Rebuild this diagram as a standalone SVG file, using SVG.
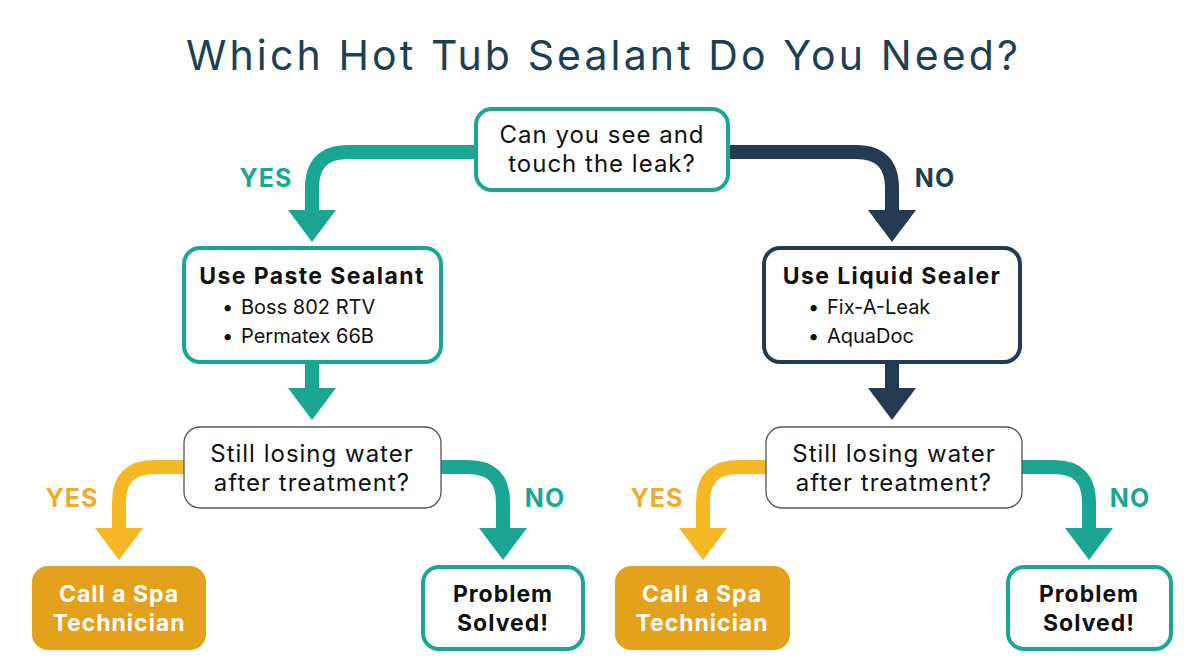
<svg xmlns="http://www.w3.org/2000/svg" width="1204" height="672" viewBox="0 0 1204 672">
<style>
text{font-family:Inter,"Noto Sans","Liberation Sans",sans-serif;}
.title{font-size:41px;fill:#1e3f52;text-anchor:middle;}
.q{font-size:24px;fill:#111;text-anchor:middle;letter-spacing:1px;}
.h{font-size:23px;font-weight:700;fill:#111;text-anchor:middle;letter-spacing:1.4px;}
.li{font-size:20px;fill:#111;}
.lab{font-size:25px;font-weight:700;letter-spacing:1px;text-anchor:middle;}
.wb{font-size:23px;font-weight:700;fill:#fff;text-anchor:middle;letter-spacing:1px;}
.kb{font-size:23px;font-weight:700;fill:#111;text-anchor:middle;letter-spacing:1px;}
.box{fill:#fff;}
.teal{stroke:#1aa692;stroke-width:4;}
.navy{stroke:#243a52;stroke-width:4;}
.gray{stroke:#555;stroke-width:1.3;}
.c{fill:none;stroke-width:14;}
</style>
<defs>
<marker id="hT" viewBox="0 0 32 48" markerWidth="32" markerHeight="48" refX="1" refY="24" orient="auto" markerUnits="userSpaceOnUse"><path d="M0,0 L32,24 L0,48 z" fill="#1aa692"/></marker>
<marker id="hN" viewBox="0 0 32 48" markerWidth="32" markerHeight="48" refX="1" refY="24" orient="auto" markerUnits="userSpaceOnUse"><path d="M0,0 L32,24 L0,48 z" fill="#243a52"/></marker>
<marker id="hY" viewBox="0 0 32 48" markerWidth="32" markerHeight="48" refX="1" refY="24" orient="auto" markerUnits="userSpaceOnUse"><path d="M0,0 L32,24 L0,48 z" fill="#f6b824"/></marker>
</defs>
<rect width="1204" height="672" fill="#fff"/>
<text class="title" x="602" y="70" textLength="832">Which Hot Tub Sealant Do You Need?</text>

<g id="connectors">
<path class="c" stroke="#1aa692" d="M476,152 H348 Q312,152 312,188 V211" marker-end="url(#hT)"/>
<path class="c" stroke="#243a52" d="M727,152 H856 Q892,152 892,188 V211" marker-end="url(#hN)"/>
<path class="c" stroke-width="13" stroke="#1aa692" d="M312,362 V389" marker-end="url(#hT)"/>
<path class="c" stroke-width="13" stroke="#243a52" d="M892,362 V389" marker-end="url(#hN)"/>
<path class="c" stroke-width="13" stroke="#f6b824" d="M185,467 H154 Q119,467 119,502 V529" marker-end="url(#hY)"/>
<path class="c" stroke-width="13" stroke="#1aa692" d="M440,467 H468 Q503,467 503,502 V529" marker-end="url(#hT)"/>
<path class="c" stroke-width="13" stroke="#f6b824" d="M767,467 H738 Q703,467 703,502 V529" marker-end="url(#hY)"/>
<path class="c" stroke-width="13" stroke="#1aa692" d="M1020,467 H1054 Q1089,467 1089,502 V529" marker-end="url(#hT)"/>
<text class="lab" x="266" y="187" fill="#1aa692">YES</text>
<text class="lab" x="935" y="187" fill="#243a52">NO</text>
<text class="lab" x="72" y="507" fill="#e8ae2e">YES</text>
<text class="lab" x="545" y="507" fill="#1aa692">NO</text>
<text class="lab" x="657" y="507" fill="#e8ae2e">YES</text>
<text class="lab" x="1130" y="507" fill="#1aa692">NO</text>
</g>

<g id="q1">
<rect class="box teal" x="476" y="109" width="252" height="81" rx="16"/>
<text class="q" x="602" y="143">Can you see and</text>
<text class="q" x="602" y="172">touch the leak?</text>
</g>

<g id="paste">
<rect class="box teal" x="184" y="248" width="257" height="114" rx="16"/>
<text class="h" x="312" y="284">Use Paste Sealant</text>
<text class="li" x="222" y="314">•</text><text class="li" x="241" y="314">Boss 802 RTV</text>
<text class="li" x="222" y="343">•</text><text class="li" x="241" y="343">Permatex 66B</text>
</g>

<g id="liquid">
<rect class="box navy" x="764" y="248" width="256" height="114" rx="16"/>
<text class="h" x="892" y="284">Use Liquid Sealer</text>
<text class="li" x="808" y="314">•</text><text class="li" x="827" y="314">Fix-A-Leak</text>
<text class="li" x="808" y="343">•</text><text class="li" x="827" y="343">AquaDoc</text>
</g>

<g id="q2">
<rect class="box gray" x="184" y="427" width="257" height="81" rx="16"/>
<text class="q" x="312" y="462">Still losing water</text>
<text class="q" x="312" y="491">after treatment?</text>
</g>

<g id="q3">
<rect class="box gray" x="766" y="427" width="256" height="81" rx="16"/>
<text class="q" x="894" y="462">Still losing water</text>
<text class="q" x="894" y="491">after treatment?</text>
</g>

<g id="tech1">
<rect x="32" y="566" width="174" height="84" rx="16" fill="#e4a11b"/>
<text class="wb" x="119" y="602">Call a Spa</text>
<text class="wb" x="119" y="631">Technician</text>
</g>

<g id="solved1">
<rect class="box teal" x="423" y="567" width="160" height="82" rx="16"/>
<text class="kb" x="503" y="602">Problem</text>
<text class="kb" x="503" y="631">Solved!</text>
</g>

<g id="tech2">
<rect x="615" y="566" width="175" height="84" rx="16" fill="#e4a11b"/>
<text class="wb" x="702" y="602">Call a Spa</text>
<text class="wb" x="702" y="631">Technician</text>
</g>

<g id="solved2">
<rect class="box teal" x="1008" y="567" width="163" height="82" rx="16"/>
<text class="kb" x="1089" y="602">Problem</text>
<text class="kb" x="1089" y="631">Solved!</text>
</g>
</svg>
